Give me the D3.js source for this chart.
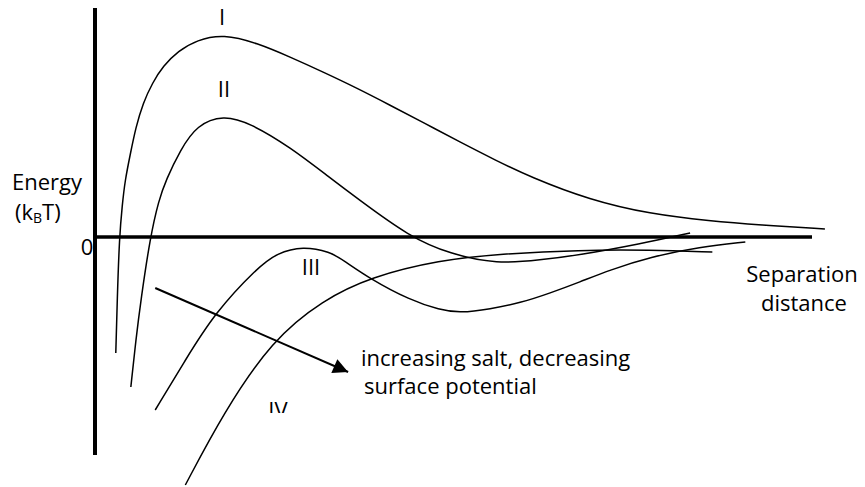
<!DOCTYPE html>
<html>
<head>
<meta charset="utf-8">
<script src="https://cdn.jsdelivr.net/npm/d3@7"></script>
<style>
  body { margin: 0; background: #fff; }
  svg text { font-family: "Open Sans", Lato, sans-serif; fill: #000; }
</style>
</head>
<body>
<section></section>
<script>
//Separation distance (arbitrary units) and energy (kBT)
const sepI = [0.29, 0.31, 0.34, 0.38, 0.42, 0.49, 0.57, 0.67, 0.80, 0.95, 1.16, 1.42, 1.79, 2.26, 2.72, 3.18, 3.65, 4.11, 4.60, 5.09, 5.58, 6.07, 6.90, 7.74, 8.58, 9.27, 10.18];
const energyI = [-5.8, -3.15, 0, 1.6, 2.85, 4.1, 5.5, 6.7, 7.7, 8.55, 9.3, 9.85, 10.15, 9.7, 9.0, 8.25, 7.45, 6.6, 5.68, 4.75, 3.85, 3.0, 1.85, 1.15, 0.8, 0.6, 0.4];

const sepII = [0.50, 0.57, 0.64, 0.77, 0.89, 0.99, 1.19, 1.42, 1.79, 2.16, 2.72, 3.28, 3.65, 4.39, 4.95, 5.61, 6.21, 6.76, 7.60, 8.30];
const energyII = [-7.5, -5.15, -3.15, 0, 1.85, 2.85, 4.35, 5.6, 6.1, 5.7, 4.5, 2.95, 1.95, 0, -0.85, -1.35, -1.15, -0.9, -0.35, 0.2];

const sepIII = [0.84, 1.26, 1.67, 2.26, 2.54, 2.90, 3.28, 3.46, 3.84, 4.39, 4.81, 5.09, 5.51, 5.93, 6.35, 6.76, 7.18, 7.74, 8.44, 9.07];
const energyIII = [-8.65, -6.15, -3.8, -1.55, -0.8, -0.45, -0.75, -1.15, -2.1, -3.15, -3.65, -3.8, -3.6, -3.3, -2.8, -2.25, -1.65, -1.0, -0.5, -0.25];

const sepIV = [1.26, 1.79, 2.47, 3.18, 3.84, 4.81, 5.65, 6.76, 7.74, 8.61];
const energyIV = [-12.4, -8.8, -5.15, -3.15, -2.0, -1.15, -0.85, -0.65, -0.65, -0.75];

const curveNames = ["I", "II", "III", "IV"];

//Where the axes start and stop
const sepAxis = [0, 10];
const energyAxis = [-10.9, 11.45];
const tickLabels = ["0"];

//The arrow showing the trend (start and end)
const arrowSep = [0.84, 3.53];
const arrowEnergy = [-2.55, -6.75];

let width = 865;
let height = 487;

let svg = d3
    .select("section")
    .append("svg")
    .attr("width", width)
    .attr("height", height);

//Scales
const x = d3.scaleLinear().domain([0, 10]).range([95, 812]);
const y = d3.scaleLinear().domain([-12.5, 11.5]).range([487, 7]);

//Arrow head marker
svg.append("defs")
    .append("marker")
    .attr("id", "head")
    .attr("viewBox", "0 0 10 10")
    .attr("refX", 10)
    .attr("refY", 5)
    .attr("markerUnits", "userSpaceOnUse")
    .attr("markerWidth", 18)
    .attr("markerHeight", 15)
    .attr("orient", "auto")
    .append("path")
    .attr("d", "M0,0L10,5L0,10Z")
    .attr("fill", "#000");

//Clip for the cut off "IV" label
svg.select("defs")
    .append("clipPath")
    .attr("id", "cutIV")
    .append("rect")
    .attr("x", 0)
    .attr("y", 0)
    .attr("width", width)
    .attr("height", 413);

//Axes
svg.append("line")
    .attr("x1", x(0)).attr("x2", x(0))
    .attr("y1", y(energyAxis[1])).attr("y2", y(energyAxis[0]))
    .attr("stroke", "#000")
    .attr("stroke-width", 4);

svg.append("line")
    .attr("x1", x(sepAxis[0])).attr("x2", x(sepAxis[1]))
    .attr("y1", y(0)).attr("y2", y(0))
    .attr("stroke", "#000")
    .attr("stroke-width", 3.5);

//Curves
const series = [
    { name: curveNames[0], sep: sepI, energy: energyI },
    { name: curveNames[1], sep: sepII, energy: energyII },
    { name: curveNames[2], sep: sepIII, energy: energyIII },
    { name: curveNames[3], sep: sepIV, energy: energyIV }
];

const line = d3.line()
    .x(d => x(d[0]))
    .y(d => y(d[1]))
    .curve(d3.curveBasis);

svg.selectAll("path.curve")
    .data(series)
    .enter()
    .append("path")
    .attr("class", "curve")
    .attr("d", d => line(d3.zip(d.sep, d.energy)))
    .attr("fill", "none")
    .attr("stroke", "#000")
    .attr("stroke-width", 1.5);

//Curve labels
const labelPos = [[222, 25], [224, 97], [311, 275], [278, 418]];
svg.selectAll("text.name")
    .data(series)
    .enter()
    .append("text")
    .attr("class", "name")
    .attr("x", (d, i) => labelPos[i][0])
    .attr("y", (d, i) => labelPos[i][1])
    .attr("text-anchor", "middle")
    .attr("font-size", 22)
    .attr("clip-path", d => d.name === "IV" ? "url(#cutIV)" : null)
    .text(d => d.name);

//Arrow
svg.append("line")
    .attr("x1", x(arrowSep[0])).attr("y1", y(arrowEnergy[0]))
    .attr("x2", x(arrowSep[1])).attr("y2", y(arrowEnergy[1]))
    .attr("stroke", "#000")
    .attr("stroke-width", 2)
    .attr("marker-end", "url(#head)");

//Axis texts
svg.append("text")
    .attr("x", 87)
    .attr("y", y(0) + 18)
    .attr("text-anchor", "middle")
    .attr("font-size", 22)
    .text(tickLabels[0]);

svg.append("text")
    .attr("x", 12)
    .attr("y", 190)
    .attr("font-size", 22)
    .text("Energy");

let unit = svg.append("text")
    .attr("x", 15)
    .attr("y", 220)
    .attr("font-size", 22);
unit.append("tspan").text("(k");
unit.append("tspan").attr("font-size", 14).attr("dy", 3).text("B");
unit.append("tspan").attr("dy", -3).text("T)");

let sepText = svg.append("text")
    .attr("text-anchor", "middle")
    .attr("font-size", 22);
sepText.append("tspan").attr("x", 802).attr("y", 282).text("Separation");
sepText.append("tspan").attr("x", 804).attr("y", 311).text("distance");

//Two separate lines for the trend note
svg.append("text")
    .attr("x", 361)
    .attr("y", 366)
    .attr("font-size", 22)
    .text("increasing salt, decreasing");
svg.append("text")
    .attr("x", 364)
    .attr("y", 394)
    .attr("font-size", 22)
    .text("surface potential");
</script>
</body>
</html>
